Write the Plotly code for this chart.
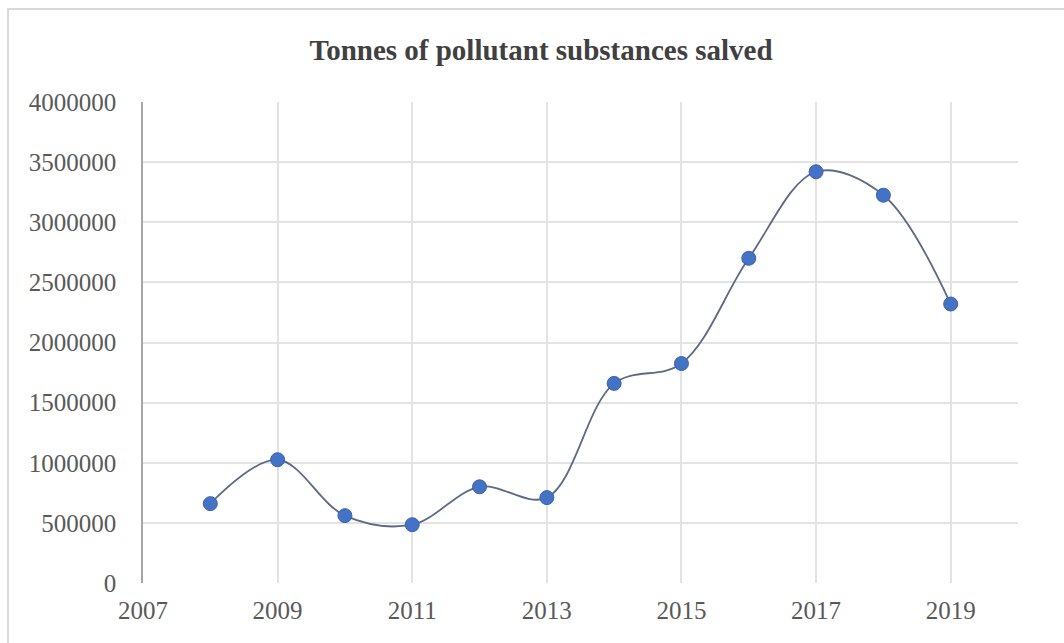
import plotly.graph_objects as go

years = [2008, 2009, 2010, 2011, 2012, 2013, 2014, 2015, 2016, 2017, 2018, 2019]
tonnes = [660000, 1025000, 560000, 485000, 800000, 710000, 1660000, 1825000, 2700000, 3420000, 3225000, 2320000]
title_text = "Tonnes of pollutant substances salved"

W, H = 1064, 643
L, R, T, B = 143, 46, 102, 60
pw, ph = W - L - R, H - T - B

def px(x):
    return (x - L) / pw

def py(y):
    return (H - B - y) / ph

fig = go.Figure()
fig.add_trace(go.Scatter(
    x=years, y=tonnes, mode="lines+markers",
    line=dict(shape="spline", smoothing=1.0, color="#5e6986", width=1.8),
    marker=dict(size=14, color="#4472C4", line=dict(color="#3a62ad", width=1)),
    showlegend=False,
))

font_family = "Liberation Serif, Times New Roman, serif"
fig.update_layout(
    width=W, height=H,
    margin=dict(l=L, r=R, t=T, b=B),
    paper_bgcolor="white", plot_bgcolor="white",
    font=dict(family=font_family, size=25, color="#595959"),
    title=dict(text=title_text, x=541 / W, xref="container", xanchor="center",
               y=1 - 50 / H, yref="container", yanchor="middle",
               font=dict(family=font_family, size=29, color="#404040", weight="bold")),
    xaxis=dict(range=[2007, 2020], tick0=2007, dtick=2, showgrid=True,
               gridcolor="#e3e3e3", gridwidth=1.5, zeroline=False,
               showline=False, ticks="", ticklabelstandoff=10,
               tickfont=dict(size=25, color="#595959")),
    yaxis=dict(range=[0, 4000000], dtick=500000, showgrid=True,
               gridcolor="#e3e3e3", gridwidth=1.5, zeroline=False,
               showline=True, linecolor="#a6a6a6", linewidth=1.5,
               ticks="", ticklabelstandoff=20, tickformat="d",
               tickfont=dict(size=25, color="#595959")),
    shapes=[dict(type="rect", xref="paper", yref="paper",
                 x0=px(8), x1=px(1075), y0=py(660), y1=py(9),
                 line=dict(color="#d9d9d9", width=2), layer="below")],
)
fig.write_html("out.html")
